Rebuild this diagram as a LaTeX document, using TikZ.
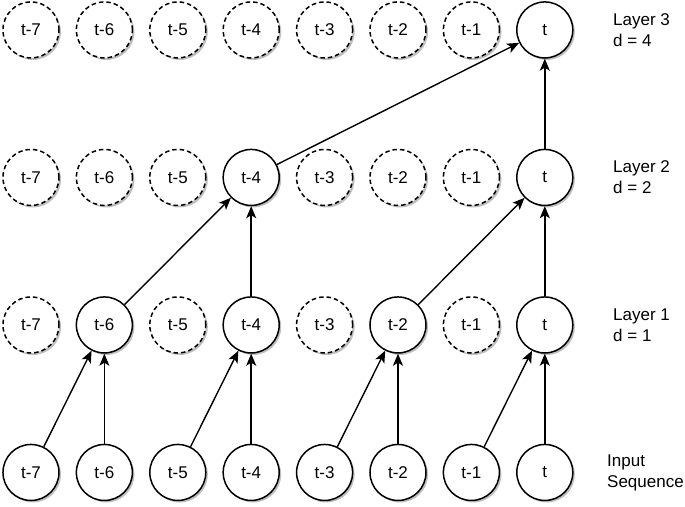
\documentclass[tikz,border=0pt]{standalone}
\usepackage{fontspec}
\setmainfont{Liberation Sans}
\usetikzlibrary{arrows.meta,shadows}

\tikzstyle{nS}=[circle,minimum size = 56pt,inner sep = 0pt,draw,line width=1.5pt,fill=white,font=\fontsize{17}{21}\selectfont,drop shadow={shadow xshift=2pt,shadow yshift=-2pt,fill=black!25,opacity=1}]
\tikzstyle{nD}=[nS,dash pattern=on 4.5pt off 3pt]
\tikzstyle{eS}=[line width=1.4pt,-{Stealth[length=12pt,width=10pt,inset=3pt]}]
\tikzstyle{lS}=[anchor=west,align=left,inner sep = 0pt,font=\fontsize{17}{21}\selectfont]

\begin{document}
\begin{tikzpicture}[x=73.4pt,y=147.5pt]
                \useasboundingbox (-0.422,-0.2305) rectangle (8.910,3.203);
                % input sequence
                \draw (0,0) node[nS] (i0) {t-7};
                \draw (1,0) node[nS] (i1) {t-6};
                \draw (2,0) node[nS] (i2) {t-5};
                \draw (3,0) node[nS] (i3) {t-4};
                \draw (4,0) node[nS] (i4) {t-3};
                \draw (5,0) node[nS] (i5) {t-2};
                \draw (6,0) node[nS] (i6) {t-1};
                \draw (7,0) node[nS] (i7) {t};
                % layer 1
                \draw (0,1) node[nD] (a0) {t-7};
                \draw (1,1) node[nS] (a1) {t-6};
                \draw (2,1) node[nD] (a2) {t-5};
                \draw (3,1) node[nS] (a3) {t-4};
                \draw (4,1) node[nD] (a4) {t-3};
                \draw (5,1) node[nS] (a5) {t-2};
                \draw (6,1) node[nD] (a6) {t-1};
                \draw (7,1) node[nS] (a7) {t};
                % layer 2
                \draw (0,2) node[nD] (b0) {t-7};
                \draw (1,2) node[nD] (b1) {t-6};
                \draw (2,2) node[nD] (b2) {t-5};
                \draw (3,2) node[nS] (b3) {t-4};
                \draw (4,2) node[nD] (b4) {t-3};
                \draw (5,2) node[nD] (b5) {t-2};
                \draw (6,2) node[nD] (b6) {t-1};
                \draw (7,2) node[nS] (b7) {t};
                % layer 3
                \draw (0,3) node[nD] (c0) {t-7};
                \draw (1,3) node[nD] (c1) {t-6};
                \draw (2,3) node[nD] (c2) {t-5};
                \draw (3,3) node[nD] (c3) {t-4};
                \draw (4,3) node[nD] (c4) {t-3};
                \draw (5,3) node[nD] (c5) {t-2};
                \draw (6,3) node[nD] (c6) {t-1};
                \draw (7,3) node[nS] (c7) {t};
                % labels
                \draw (7.929,3) node[lS] (lab3) {Layer 3\\d = 4};
                \draw (7.929,2) node[lS] (lab2) {Layer 2\\d = 2};
                \draw (7.929,1) node[lS] (lab1) {Layer 1\\d = 1};
                \draw (7.847,0) node[lS] (lab0) {Input\\Sequence};
                \path
                    (i0) edge[eS] (a1)
                    (i1) edge[eS] (a1)
                    (i2) edge[eS] (a3)
                    (i3) edge[eS] (a3)
                    (i4) edge[eS] (a5)
                    (i5) edge[eS] (a5)
                    (i6) edge[eS] (a7)
                    (i7) edge[eS] (a7)
                    (a1) edge[eS] (b3)
                    (a3) edge[eS] (b3)
                    (a5) edge[eS] (b7)
                    (a7) edge[eS] (b7)
                    (b3) edge[eS] (c7)
                    (b7) edge[eS] (c7)
                ;
        \end{tikzpicture}
\end{document}
